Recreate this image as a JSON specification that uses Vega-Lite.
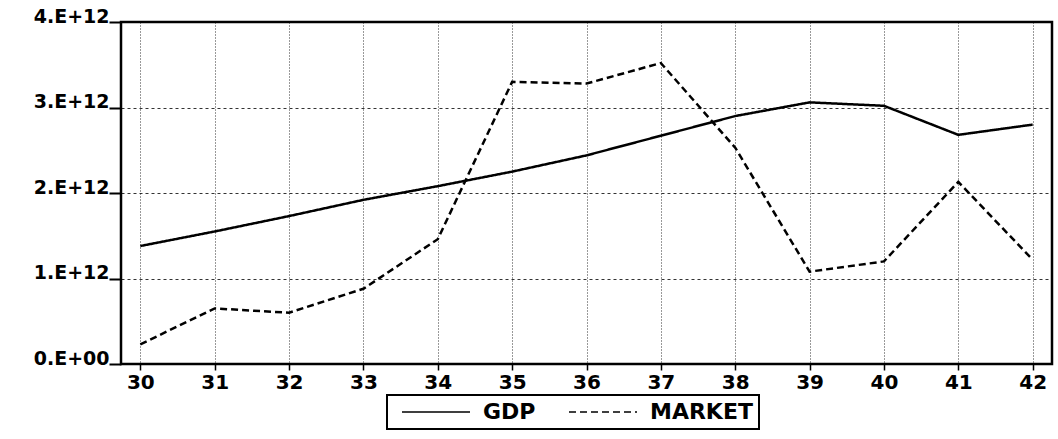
{
  "$schema": "https://vega.github.io/schema/vega-lite/v6.json",
  "width": 931,
  "height": 342,
  "autosize": {"type": "none"},
  "padding": {"left": 121, "top": 22, "right": 6, "bottom": 75},
  "background": "white",
  "config": {
    "view": {"stroke": "black", "strokeWidth": 2.5},
    "font": "DejaVu Sans"
  },
  "data": {
    "values": [
      {"year": 30, "series": "GDP", "value": 1.38e12},
      {"year": 31, "series": "GDP", "value": 1.55e12},
      {"year": 32, "series": "GDP", "value": 1.73e12},
      {"year": 33, "series": "GDP", "value": 1.92e12},
      {"year": 34, "series": "GDP", "value": 2.08e12},
      {"year": 35, "series": "GDP", "value": 2.25e12},
      {"year": 36, "series": "GDP", "value": 2.44e12},
      {"year": 37, "series": "GDP", "value": 2.67e12},
      {"year": 38, "series": "GDP", "value": 2.90e12},
      {"year": 39, "series": "GDP", "value": 3.06e12},
      {"year": 40, "series": "GDP", "value": 3.02e12},
      {"year": 41, "series": "GDP", "value": 2.68e12},
      {"year": 42, "series": "GDP", "value": 2.80e12},
      {"year": 30, "series": "MARKET", "value": 0.23e12},
      {"year": 31, "series": "MARKET", "value": 0.65e12},
      {"year": 32, "series": "MARKET", "value": 0.60e12},
      {"year": 33, "series": "MARKET", "value": 0.88e12},
      {"year": 34, "series": "MARKET", "value": 1.46e12},
      {"year": 35, "series": "MARKET", "value": 3.30e12},
      {"year": 36, "series": "MARKET", "value": 3.28e12},
      {"year": 37, "series": "MARKET", "value": 3.52e12},
      {"year": 38, "series": "MARKET", "value": 2.53e12},
      {"year": 39, "series": "MARKET", "value": 1.08e12},
      {"year": 40, "series": "MARKET", "value": 1.20e12},
      {"year": 41, "series": "MARKET", "value": 2.13e12},
      {"year": 42, "series": "MARKET", "value": 1.22e12}
    ]
  },
  "mark": {"type": "line", "color": "black", "strokeWidth": 2.5},
  "encoding": {
    "x": {
      "field": "year", "type": "quantitative",
      "scale": {"domain": [29.74, 42.26], "nice": false, "zero": false},
      "axis": {
        "title": null,
        "values": [30,31,32,33,34,35,36,37,38,39,40,41,42],
        "grid": true, "gridColor": "black", "gridDash": [1, 2], "gridWidth": 1, "gridOpacity": 0.8,
        "domain": false,
        "tickColor": "black", "tickSize": 6, "tickWidth": 1.5,
        "labelFont": "DejaVu Sans", "labelFontWeight": "bold", "labelFontSize": 20,
        "labelColor": "black", "labelPadding": 2
      }
    },
    "y": {
      "field": "value", "type": "quantitative",
      "scale": {"domain": [0, 4e12], "nice": false},
      "axis": {
        "title": null,
        "values": [0, 1e12, 2e12, 3e12, 4e12],
        "labelExpr": "datum.value == 0 ? '0.E+00' : format(datum.value/1e12, 'd') + '.E+12'",
        "grid": true, "gridColor": "black", "gridDash": [3, 3], "gridWidth": 1, "gridOpacity": 0.8,
        "domain": false,
        "tickColor": "black", "tickSize": 12, "tickWidth": 2,
        "labelFont": "DejaVu Sans", "labelFontWeight": "bold", "labelFontSize": 19,
        "labelColor": "black", "labelPadding": 0, "labelBaseline": "bottom", "labelOffset": 4
      }
    },
    "strokeDash": {
      "field": "series", "type": "nominal",
      "scale": {"domain": ["GDP", "MARKET"], "range": [[1, 0], [7, 4]]},
      "legend": {
        "title": null,
        "orient": "none",
        "legendX": 266,
        "legendY": 373,
        "direction": "horizontal",
        "strokeColor": "black",
        "padding": 6,
        "symbolType": "M-0.2,0H6.6",
        "symbolSize": 400,
        "symbolStrokeWidth": 1.5,
        "symbolStrokeColor": "black",
        "labelOffset": 68,
        "labelFont": "DejaVu Sans", "labelFontWeight": "bold", "labelFontSize": 22,
        "labelColor": "black",
        "columnPadding": 24,
        "encode": {"legend": {"update": {"strokeWidth": {"value": 2}}}}
      }
    }
  }
}
